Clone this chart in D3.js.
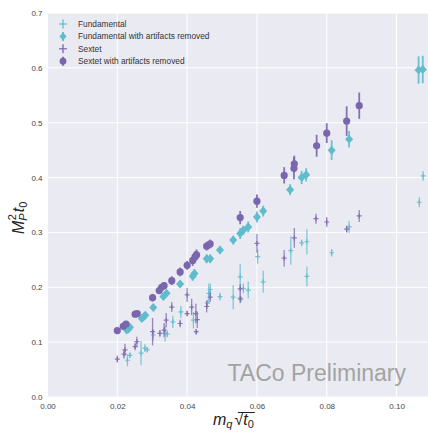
<html>
<head>
<meta charset="utf-8">
<script src="https://d3js.org/d3.v7.min.js"></script>
<style>
  body { margin: 0; background: #fff; }
  text { font-family: "Liberation Sans", Arial, sans-serif; }
</style>
</head>
<body>
<svg id="chart"></svg>
<script>
// [x, y, y-error]
const fundamental = [
  [0.0229,0.067,0.011],[0.0236,0.076,0.005],[0.0268,0.080,0.022],[0.0279,0.089,0.007],
  [0.0286,0.086,0.005],[0.0303,0.113,0.010],[0.0337,0.116,0.015],[0.0343,0.115,0.006],
  [0.0359,0.137,0.011],[0.0382,0.155,0.011],[0.0418,0.140,0.015],[0.0458,0.171,0.006],
  [0.0462,0.189,0.018],[0.0466,0.196,0.011],[0.0494,0.183,0.007],[0.0532,0.182,0.022],
  [0.0552,0.219,0.024],[0.0554,0.178,0.005],[0.0561,0.198,0.009],[0.0575,0.195,0.015],
  [0.0602,0.256,0.013],[0.0618,0.210,0.020],[0.0697,0.267,0.026],[0.0728,0.281,0.006],
  [0.0743,0.283,0.023],[0.0743,0.220,0.018],[0.0814,0.263,0.007],[0.0864,0.310,0.011],
  [0.1065,0.355,0.009],[0.1076,0.403,0.009]
];
const fundamentalClean = [
  [0.0227,0.122,0.005],[0.0232,0.124,0.005],[0.0236,0.127,0.005],[0.0270,0.143,0.005],
  [0.0275,0.146,0.005],[0.0280,0.149,0.005],[0.0303,0.163,0.005],[0.0332,0.183,0.005],
  [0.0341,0.189,0.005],[0.0380,0.206,0.006],[0.0416,0.220,0.008],[0.0421,0.225,0.008],
  [0.0456,0.252,0.008],[0.0466,0.252,0.008],[0.0494,0.268,0.007],[0.0532,0.286,0.008],
  [0.0552,0.298,0.010],[0.0561,0.304,0.008],[0.0575,0.310,0.010],[0.0600,0.328,0.010],
  [0.0618,0.339,0.010],[0.0695,0.378,0.010],[0.0728,0.400,0.012],[0.0741,0.405,0.012],
  [0.0814,0.450,0.018],[0.0864,0.470,0.015],[0.1063,0.596,0.025],[0.1075,0.597,0.025]
];
const sextet = [
  [0.0200,0.069,0.006],[0.0219,0.078,0.008],[0.0222,0.086,0.011],[0.0251,0.092,0.007],
  [0.0256,0.101,0.009],[0.0301,0.119,0.025],[0.0322,0.116,0.006],[0.0334,0.122,0.013],
  [0.0340,0.140,0.013],[0.0356,0.164,0.009],[0.0380,0.134,0.007],[0.0400,0.186,0.013],
  [0.0400,0.152,0.005],[0.0413,0.164,0.015],[0.0425,0.152,0.018],[0.0429,0.141,0.015],
  [0.0426,0.119,0.005],[0.0456,0.165,0.011],[0.0466,0.182,0.009],[0.0552,0.197,0.009],
  [0.0552,0.180,0.009],[0.0600,0.280,0.017],[0.0678,0.253,0.015],[0.0707,0.290,0.018],
  [0.0769,0.325,0.009],[0.0800,0.319,0.009],[0.0857,0.306,0.006],[0.0893,0.330,0.011]
];
const sextetClean = [
  [0.0200,0.121,0.005],[0.0217,0.129,0.005],[0.0225,0.133,0.005],[0.0251,0.151,0.005],
  [0.0257,0.152,0.005],[0.0301,0.181,0.007],[0.0320,0.194,0.006],[0.0327,0.200,0.006],
  [0.0334,0.203,0.006],[0.0356,0.212,0.008],[0.0380,0.228,0.008],[0.0400,0.240,0.008],
  [0.0416,0.249,0.010],[0.0423,0.256,0.010],[0.0427,0.259,0.010],[0.0456,0.275,0.008],
  [0.0466,0.279,0.008],[0.0552,0.327,0.012],[0.0600,0.357,0.012],[0.0678,0.404,0.015],
  [0.0706,0.417,0.020],[0.0707,0.425,0.015],[0.0771,0.458,0.020],[0.0800,0.481,0.018],
  [0.0857,0.503,0.027],[0.0893,0.531,0.024]
];
const xTicks = [0, 0.02, 0.04, 0.06, 0.08, 0.10];
const yTicks = [0, 0.1, 0.2, 0.3, 0.4, 0.5, 0.6, 0.7];
const legendLabels = ["Fundamental", "Fundamental with artifacts removed", "Sextet", "Sextet with artifacts removed"];

const cyan = "#5fbccc", purple = "#7a66ad";
const width = 428, height = 435;
const margin = {left: 47.5, right: 0, top: 13, bottom: 38};

const svg = d3.select("#chart").attr("width", width).attr("height", height);

const x = d3.scaleLinear().domain([0, 0.109]).range([margin.left, width - margin.right]);
const y = d3.scaleLinear().domain([0, 0.7]).range([height - margin.bottom, margin.top]);

svg.append("defs").append("clipPath").attr("id", "clip")
  .append("rect").attr("x", margin.left).attr("y", margin.top)
  .attr("width", width - margin.left - margin.right).attr("height", height - margin.top - margin.bottom);

svg.append("rect")
  .attr("x", margin.left).attr("y", margin.top)
  .attr("width", width - margin.left - margin.right)
  .attr("height", height - margin.top - margin.bottom)
  .attr("fill", "#eaeaf2");

// grid
const grid = svg.append("g").attr("stroke", "#fff").attr("stroke-width", 1);
grid.selectAll(".gx").data(xTicks).join("line")
  .attr("x1", d => x(d)).attr("x2", d => x(d))
  .attr("y1", margin.top).attr("y2", height - margin.bottom);
grid.selectAll(".gy").data(yTicks).join("line")
  .attr("x1", margin.left).attr("x2", width)
  .attr("y1", d => y(d)).attr("y2", d => y(d));

// axes
const xAxis = svg.append("g").attr("transform", `translate(0,${height - margin.bottom})`)
  .call(d3.axisBottom(x).tickValues(xTicks).tickFormat(d3.format(".2f")).tickSize(0).tickPadding(6));
const yAxis = svg.append("g").attr("transform", `translate(${margin.left},0)`)
  .call(d3.axisLeft(y).tickValues(yTicks).tickFormat(d3.format(".1f")).tickSize(0).tickPadding(5));
[xAxis, yAxis].forEach(a => {
  a.select(".domain").remove();
  a.selectAll("text").attr("fill", "#444").attr("font-size", 8)
    .attr("font-family", "'Liberation Sans', Arial, sans-serif");
});

// watermark
svg.append("text")
  .attr("x", 406).attr("y", 381)
  .attr("text-anchor", "end")
  .attr("font-size", 23)
  .attr("fill", "#a3a3a3")
  .text("TACo Preliminary");

const plot = svg.append("g").attr("clip-path", "url(#clip)");

function errorSeries(data, color, width, opacity) {
  plot.append("g").selectAll("line").data(data).join("line")
    .attr("x1", d => x(d[0])).attr("x2", d => x(d[0]))
    .attr("y1", d => y(d[1] - d[2])).attr("y2", d => y(d[1] + d[2]))
    .attr("stroke", color).attr("stroke-width", width).attr("opacity", opacity);
}

function plusMarks(data, color) {
  plot.append("g").selectAll("path").data(data).join("path")
    .attr("d", d => `M${x(d[0]) - 2.5},${y(d[1])}h5M${x(d[0])},${y(d[1]) - 2.5}v5`)
    .attr("stroke", color).attr("stroke-width", 1.2).attr("fill", "none").attr("opacity", 0.85);
}

errorSeries(fundamental, cyan, 1.3, 0.75);
plusMarks(fundamental, cyan);
errorSeries(sextet, purple, 1.3, 0.75);
plusMarks(sextet, purple);

errorSeries(fundamentalClean, cyan, 1.8, 0.9);
plot.append("g").selectAll("path").data(fundamentalClean).join("path")
  .attr("d", d => `M${x(d[0])},${y(d[1]) - 4.5}l4,4.5l-4,4.5l-4,-4.5z`)
  .attr("fill", cyan);

errorSeries(sextetClean, purple, 1.8, 0.9);
plot.append("g").selectAll("circle").data(sextetClean).join("circle")
  .attr("cx", d => x(d[0])).attr("cy", d => y(d[1])).attr("r", 3.6)
  .attr("fill", purple);

// legend
const legend = svg.append("g");
const rows = legend.selectAll("g").data(legendLabels).join("g")
  .attr("transform", (d, i) => `translate(63,${24 + i * 12.4})`);
rows.append("line")
  .attr("y1", -4.5).attr("y2", 4.5)
  .attr("stroke", (d, i) => i < 2 ? cyan : purple)
  .attr("stroke-width", (d, i) => i % 2 ? 1.8 : 1.3);
rows.append("path")
  .attr("d", (d, i) => i % 2 ? "" : "M-4,0h8")
  .attr("stroke", (d, i) => i < 2 ? cyan : purple).attr("stroke-width", 1.2);
rows.filter((d, i) => i === 1).append("path")
  .attr("d", "M0,-4l3.6,4l-3.6,4l-3.6,-4z").attr("fill", cyan);
rows.filter((d, i) => i === 3).append("circle")
  .attr("r", 3.4).attr("fill", purple);
rows.append("text")
  .attr("x", 15).attr("y", 3)
  .attr("font-size", 8.3).attr("fill", "#333")
  .text(d => d);

// axis labels
const xl = svg.append("text")
  .attr("x", 213).attr("y", 425)
  .attr("font-family", "'DejaVu Serif', 'Liberation Serif', serif")
  .attr("font-size", 16).attr("fill", "#222");
xl.append("tspan").attr("font-style", "italic").text("m");
xl.append("tspan").attr("font-style", "italic").attr("font-size", 11).attr("dy", 3).text("q");
xl.append("tspan").attr("dy", -3).attr("dx", 2).text("\u221A");
xl.append("tspan").attr("font-style", "italic").text("t");
xl.append("tspan").attr("font-size", 11).attr("dy", 3).text("0");
const bb = xl.node().getBBox();
svg.append("line")
  .attr("x1", bb.x + bb.width - 16).attr("x2", bb.x + bb.width + 1)
  .attr("y1", bb.y + 1.5).attr("y2", bb.y + 1.5)
  .attr("stroke", "#222").attr("stroke-width", 1);

const yl = svg.append("text")
  .attr("transform", "translate(24,234) rotate(-90)")
  .attr("font-family", "'DejaVu Serif', 'Liberation Serif', serif")
  .attr("font-size", 16).attr("fill", "#222");
yl.append("tspan").attr("font-style", "italic").text("M");
yl.append("tspan").attr("font-style", "italic").attr("font-size", 11).attr("dy", 3).text("P");
yl.append("tspan").attr("font-size", 11).attr("dy", -11).attr("dx", -7).text("2");
yl.append("tspan").attr("font-style", "italic").attr("dy", 8).attr("dx", 2).text("t");
yl.append("tspan").attr("font-size", 11).attr("dy", 3).text("0");
</script>
</body>
</html>
